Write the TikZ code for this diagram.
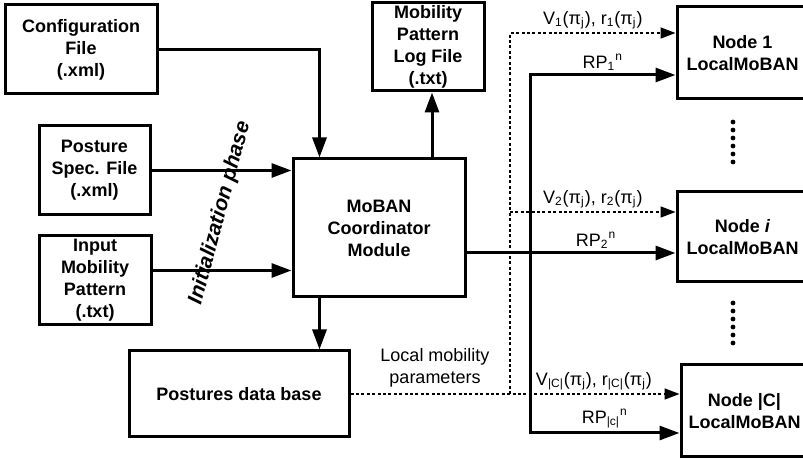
\documentclass[tikz,border=0pt]{standalone}
\usepackage{fontspec}
\setmainfont{Liberation Sans}
\usetikzlibrary{arrows.meta}
\tikzset{>={Triangle[length=10pt,width=7pt]}}
\tikzset{
  blk/.style={draw, line width=1.5pt, align=center, inner sep=0pt,
    font=\bfseries\fontsize{9}{11}\selectfont},
  lbl/.style={font=\fontsize{9}{11}\selectfont, inner sep=1.5pt},
  link/.style={line width=1.5pt, ->},
  dlink/.style={line width=0.75pt, dash pattern=on 1.5pt off 1.2pt,
    -{Triangle[length=7.5pt,width=5.5pt]}},
  vdots/.style={line width=2.4pt, line cap=round, dash pattern=on 0pt off 4pt}
}

\begin{document}
\begin{tikzpicture}[x=0.5pt, y=-0.5pt]
    \useasboundingbox (0,0) rectangle (803,459);
    \clip (0,0) rectangle (803,459);
    % input files and the coordinator
    \node[blk, minimum width=76pt, minimum height=44.5pt] (conf) at (81,49.5) {Configuration\\File\\(.xml)};
    \node[blk, minimum width=55.5pt, minimum height=44.5pt] (spec) at (94.5,170.5) {Posture\\Spec. File\\(.xml)};
    \node[blk, minimum width=56pt, minimum height=44.5pt] (input) at (95,280.5) {Input\\Mobility\\Pattern\\(.txt)};
    \node[blk, minimum width=86pt, minimum height=69pt] (coord) at (379,228) {MoBAN\\Coordinator\\Module};
    \node[blk, minimum width=56pt, minimum height=44pt] (logf) at (428,47) {Mobility\\Pattern\\Log File\\(.txt)};
    \node[blk, minimum width=110pt, minimum height=43pt] (pdb) at (239,394) {Postures data base};
    % local nodes
    \node[blk, minimum width=65.5pt, minimum height=46pt] (node1) at (742.5,53) {Node 1\\LocalMoBAN};
    \node[blk, minimum width=65.5pt, minimum height=45pt] (nodei) at (742.5,237) {Node \textit{i}\\LocalMoBAN};
    \node[blk, minimum width=63.5pt, minimum height=46pt] (nodec) at (744.5,411) {Node |C|\\LocalMoBAN};
    \draw[vdots] (733,122) -- (733,163);
    \draw[vdots] (733,303) -- (733,347);

    \node[font=\bfseries\itshape\fontsize{10.5}{12}\selectfont, rotate=75] (initph) at (220,213) {Initialization phase};

    % initialization arrows
    \draw[link] (conf.east) -| ([xshift=14pt]coord.north west);
    \draw[link] (spec.east) -- (spec.east -| coord.west);
    \draw[link] ([yshift=5pt]input.east) -- ([yshift=5pt]input.east -| coord.west);
    \coordinate (up) at ([xshift=26.5pt]coord.north);
    \draw[link] (up) -- (up |- logf.south);
    \coordinate (dn) at ([xshift=14pt]coord.south west);
    \draw[link] (dn) -- (dn |- pdb.north);

    % RP messages
    \coordinate (rp2) at ([yshift=-12.5pt]coord.east);
    \draw[link] (rp2) -- node[lbl, above, pos=0.62] (rp2lab) {RP\textsubscript{2}\textsuperscript{n}} (rp2 -| nodei.west);
    \coordinate (bt) at (530,75);
    \coordinate (bb) at (530,433);
    \draw[link, <->] (bt -| node1.west) -- node[lbl, above] (rp1lab) {RP\textsubscript{1}\textsuperscript{n}} (bt)
        -- (bb) -- node[lbl, above] (rpclab) {RP\textsubscript{|c|}\textsuperscript{n}} (bb -| nodec.west);

    % local mobility parameters
    \node[lbl, align=center] (lmp) at (435,368) {Local mobility\\parameters};
    \draw[dlink] (pdb.east) -- node[lbl, above, pos=0.74] (vclab) {V\textsubscript{|C|}(π\textsubscript{j}), r\textsubscript{|C|}(π\textsubscript{j})} (pdb.east -| nodec.west);
    \coordinate (dtop) at (510,33);
    \coordinate (dmid) at (510,212);
    \draw[dlink] (dtop |- pdb.east) -- (dtop) -- node[lbl, above] (v1lab) {V\textsubscript{1}(π\textsubscript{j}), r\textsubscript{1}(π\textsubscript{j})} (dtop -| node1.west);
    \draw[dlink] (dmid) -- node[lbl, above] (v2lab) {V\textsubscript{2}(π\textsubscript{j}), r\textsubscript{2}(π\textsubscript{j})} (dmid -| nodei.west);
\end{tikzpicture}
\end{document}
